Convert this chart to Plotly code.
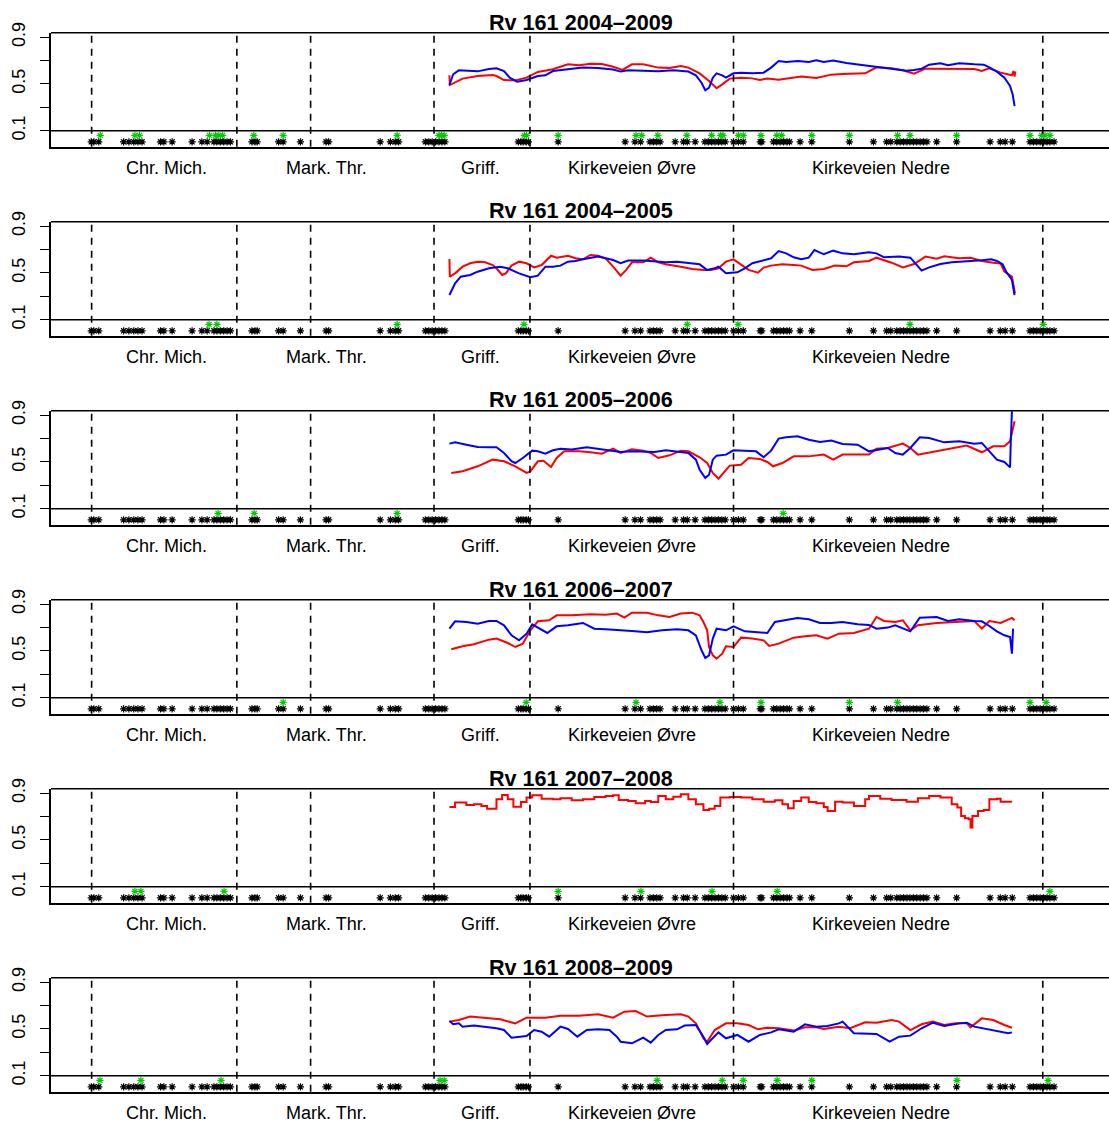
import plotly.graph_objects as go

# ---------------- data ----------------
titles = ["Rv 161 2004\u20132009", "Rv 161 2004\u20132005", "Rv 161 2005\u20132006",
          "Rv 161 2006\u20132007", "Rv 161 2007\u20132008", "Rv 161 2008\u20132009"]

section_names = ["Chr. Mich.", "Mark. Thr.", "Griff.", "Kirkeveien \u00d8vre", "Kirkeveien Nedre"]
section_label_pos = [374, 798, 1207, 1610, 2272]
section_bounds = [174, 560, 756, 1084, 1339, 1880, 2702]

black_star_pos = [173, 180, 193, 259, 273, 286, 297, 308, 357, 366, 388, 441, 467, 481, 499, 507, 516,
                  525, 534, 543, 600, 608, 614, 671, 683, 729, 797, 804, 941, 968, 981, 990, 1061,
                  1070, 1079, 1088, 1097, 1105, 1113, 1308, 1315, 1321, 1329, 1335, 1414, 1592, 1618,
                  1633, 1658, 1667, 1676, 1685, 1725, 1747, 1757, 1778, 1804, 1813, 1822, 1831, 1840,
                  1849, 1858, 1880, 1893, 1906, 1951, 1955, 1986, 1995, 2004, 2013, 2022, 2029, 2057,
                  2088, 2188, 2252, 2287, 2298, 2314, 2323, 2332, 2341, 2349, 2358, 2367, 2376, 2385,
                  2394, 2420, 2473, 2562, 2589, 2602, 2621, 2668, 2677, 2686, 2695, 2704, 2713, 2721, 2732]

green_star_pos = [
    [197, 289, 301, 487, 503, 512, 522, 605, 683, 986, 1097, 1104, 1111, 1324, 1330, 1414, 1621,
     1636, 1679, 1756, 1822, 1846, 1852, 1893, 1906, 1953, 1995, 2008, 2088, 2188, 2316, 2349,
     2473, 2668, 2699, 2708, 2721],
    [486, 507, 986, 1323, 1757, 1892, 2349, 2703],
    [510, 606, 986, 2012],
    [683, 1329, 1621, 1844, 1953, 2188, 2316, 2668, 2711],
    [289, 305, 526, 1414, 1634, 1823, 1996, 2721],
    [196, 305, 518, 1100, 1111, 1677, 1850, 1906, 1996, 2088, 2474, 2716],
]
black_star_level = 0.005
green_star_level = 0.06
threshold_level = 0.1

# panel 1 (2004-2009)
p1_red_x = [1125, 1126, 1160, 1200, 1240, 1250, 1270, 1300, 1330, 1360, 1400, 1440, 1470, 1500, 1530,
            1560, 1585, 1610, 1640, 1680, 1710, 1740, 1760, 1790, 1815, 1835, 1850, 1870, 1900, 1930,
            1950, 1970, 2000, 2030, 2060, 2100, 2140, 2170, 2200, 2230, 2260, 2300, 2330, 2360, 2390,
            2430, 2480, 2520, 2540, 2560, 2590, 2620, 2624, 2627, 2629]
p1_red_y = [0.574, 0.491, 0.546, 0.568, 0.577, 0.568, 0.534, 0.531, 0.554, 0.603, 0.626, 0.668, 0.660,
            0.674, 0.671, 0.648, 0.620, 0.668, 0.668, 0.640, 0.637, 0.654, 0.640, 0.591, 0.526, 0.463,
            0.497, 0.546, 0.554, 0.548, 0.534, 0.546, 0.537, 0.551, 0.563, 0.551, 0.580, 0.586, 0.586,
            0.591, 0.643, 0.634, 0.617, 0.588, 0.631, 0.631, 0.628, 0.628, 0.611, 0.634, 0.597, 0.574,
            0.611, 0.563, 0.608]
p1_blue_x = [1125, 1135, 1150, 1180, 1200, 1230, 1250, 1270, 1285, 1305, 1330, 1360, 1380, 1400, 1440,
             1480, 1520, 1560, 1580, 1600, 1640, 1680, 1720, 1760, 1780, 1795, 1805, 1815, 1825, 1835,
             1850, 1860, 1880, 1900, 1930, 1960, 1980, 2000, 2020, 2050, 2080, 2100, 2120, 2145, 2180,
             2220, 2260, 2300, 2340, 2360, 2380, 2400, 2430, 2450, 2480, 2520, 2545, 2560, 2580, 2600,
             2615, 2622, 2627]
p1_blue_y = [0.491, 0.583, 0.617, 0.614, 0.608, 0.628, 0.634, 0.611, 0.554, 0.520, 0.534, 0.568, 0.574,
             0.611, 0.626, 0.640, 0.637, 0.623, 0.606, 0.617, 0.614, 0.608, 0.617, 0.606, 0.574, 0.511,
             0.446, 0.468, 0.554, 0.591, 0.574, 0.554, 0.591, 0.597, 0.591, 0.597, 0.640, 0.697, 0.688,
             0.697, 0.688, 0.703, 0.688, 0.700, 0.680, 0.665, 0.646, 0.634, 0.614, 0.620, 0.631, 0.665,
             0.677, 0.660, 0.677, 0.668, 0.665, 0.643, 0.606, 0.554, 0.483, 0.411, 0.311]

# panel 2 (2004-2005)
p2_red_x = [1125, 1126, 1140, 1160, 1180, 1200, 1220, 1240, 1250, 1265, 1275, 1290, 1310, 1330, 1350,
            1370, 1395, 1410, 1440, 1460, 1480, 1500, 1520, 1540, 1560, 1580, 1595, 1610, 1640, 1660,
            1680, 1700, 1740, 1770, 1800, 1820, 1840, 1860, 1880, 1900, 1920, 1945, 1960, 1980, 2010,
            2040, 2060, 2090, 2120, 2150, 2180, 2200, 2240, 2260, 2300, 2330, 2360, 2390, 2420, 2440,
            2480, 2510, 2540, 2570, 2590, 2600, 2620, 2628]
p2_red_y = [0.620, 0.468, 0.497, 0.554, 0.583, 0.597, 0.591, 0.568, 0.540, 0.483, 0.497, 0.563, 0.597,
            0.583, 0.548, 0.568, 0.648, 0.631, 0.648, 0.626, 0.617, 0.654, 0.648, 0.626, 0.554, 0.477,
            0.526, 0.591, 0.591, 0.631, 0.591, 0.574, 0.554, 0.534, 0.526, 0.526, 0.540, 0.597, 0.617,
            0.574, 0.526, 0.503, 0.546, 0.563, 0.574, 0.568, 0.563, 0.526, 0.534, 0.563, 0.557, 0.591,
            0.603, 0.631, 0.588, 0.548, 0.577, 0.640, 0.623, 0.643, 0.626, 0.631, 0.603, 0.588, 0.580,
            0.511, 0.468, 0.326]
p2_blue_x = [1125, 1140, 1155, 1180, 1200, 1230, 1260, 1280, 1310, 1340, 1360, 1380, 1400, 1420, 1440,
             1460, 1480, 1500, 1520, 1540, 1560, 1580, 1600, 1640, 1670, 1700, 1730, 1760, 1790, 1810,
             1830, 1840, 1860, 1890, 1910, 1930, 1960, 1980, 2000, 2020, 2040, 2060, 2080, 2095, 2120,
             2145, 2170, 2200, 2240, 2260, 2280, 2320, 2350, 2380, 2400, 2430, 2460, 2500, 2540, 2565,
             2580, 2595, 2605, 2620, 2627]
p2_blue_y = [0.311, 0.411, 0.468, 0.483, 0.511, 0.540, 0.554, 0.540, 0.497, 0.463, 0.477, 0.554, 0.554,
             0.563, 0.597, 0.603, 0.617, 0.626, 0.640, 0.626, 0.611, 0.583, 0.606, 0.606, 0.597, 0.591,
             0.597, 0.583, 0.574, 0.526, 0.540, 0.554, 0.497, 0.506, 0.540, 0.583, 0.606, 0.626, 0.688,
             0.668, 0.634, 0.617, 0.631, 0.697, 0.660, 0.691, 0.668, 0.660, 0.677, 0.668, 0.634, 0.640,
             0.631, 0.520, 0.548, 0.577, 0.591, 0.597, 0.608, 0.617, 0.603, 0.574, 0.511, 0.440, 0.311]

# panel 3 (2005-2006)
p3_red_x = [1130, 1160, 1200, 1240, 1270, 1300, 1330, 1340, 1360, 1375, 1395, 1410, 1430, 1470, 1500,
            1530, 1560, 1580, 1610, 1640, 1660, 1680, 1710, 1740, 1760, 1790, 1810, 1825, 1840, 1860,
            1870, 1900, 1920, 1950, 1970, 1985, 2010, 2040, 2080, 2120, 2145, 2170, 2200, 2240, 2260,
            2290, 2330, 2350, 2370, 2410, 2450, 2500, 2540, 2570, 2600, 2615, 2622, 2627]
p3_red_y = [0.406, 0.420, 0.463, 0.520, 0.506, 0.463, 0.406, 0.420, 0.506, 0.511, 0.457, 0.534, 0.591,
            0.591, 0.583, 0.571, 0.614, 0.577, 0.608, 0.597, 0.577, 0.534, 0.557, 0.597, 0.591, 0.540,
            0.491, 0.406, 0.357, 0.434, 0.469, 0.477, 0.534, 0.526, 0.500, 0.463, 0.491, 0.548, 0.548,
            0.563, 0.520, 0.563, 0.563, 0.563, 0.614, 0.620, 0.657, 0.620, 0.563, 0.586, 0.614, 0.640,
            0.583, 0.634, 0.634, 0.677, 0.777, 0.848]
p3_blue_x = [1125, 1140, 1170, 1200, 1230, 1250, 1270, 1290, 1300, 1320, 1345, 1360, 1380, 1400, 1420,
             1450, 1490, 1520, 1550, 1580, 1610, 1640, 1670, 1700, 1730, 1760, 1780, 1790, 1805, 1815,
             1825, 1835, 1860, 1880, 1910, 1940, 1960, 1980, 2000, 2020, 2050, 2080, 2110, 2140, 2170,
             2210, 2240, 2265, 2290, 2310, 2330, 2350, 2375, 2400, 2440, 2480, 2520, 2540, 2560, 2580,
             2600, 2615, 2617, 2620]
p3_blue_y = [0.657, 0.668, 0.648, 0.628, 0.626, 0.626, 0.577, 0.506, 0.491, 0.534, 0.597, 0.591, 0.571,
             0.600, 0.614, 0.606, 0.626, 0.614, 0.600, 0.586, 0.591, 0.591, 0.586, 0.600, 0.591, 0.577,
             0.520, 0.434, 0.363, 0.391, 0.520, 0.554, 0.563, 0.600, 0.597, 0.591, 0.540, 0.597, 0.700,
             0.711, 0.720, 0.691, 0.671, 0.683, 0.654, 0.648, 0.591, 0.606, 0.620, 0.577, 0.563, 0.620,
             0.711, 0.706, 0.668, 0.677, 0.657, 0.663, 0.591, 0.520, 0.500, 0.454, 0.677, 0.934]

# panel 4 (2006-2007)
p4_red_x = [1130, 1160, 1190, 1230, 1250, 1280, 1300, 1320, 1340, 1360, 1390, 1410, 1450, 1500, 1540,
            1570, 1590, 1610, 1650, 1680, 1710, 1740, 1770, 1790, 1800, 1810, 1815, 1825, 1835, 1850,
            1860, 1880, 1900, 1930, 1960, 1975, 2000, 2040, 2070, 2100, 2130, 2160, 2200, 2240, 2260,
            2280, 2310, 2330, 2350, 2370, 2420, 2480, 2520, 2540, 2560, 2590, 2620, 2627]
p4_red_y = [0.514, 0.540, 0.557, 0.597, 0.606, 0.568, 0.534, 0.563, 0.677, 0.754, 0.763, 0.805, 0.805,
            0.814, 0.811, 0.820, 0.785, 0.828, 0.828, 0.805, 0.791, 0.820, 0.828, 0.805, 0.748, 0.677,
            0.534, 0.463, 0.434, 0.477, 0.540, 0.534, 0.614, 0.606, 0.591, 0.543, 0.563, 0.614, 0.626,
            0.634, 0.606, 0.648, 0.654, 0.691, 0.791, 0.757, 0.748, 0.763, 0.677, 0.720, 0.740, 0.754,
            0.757, 0.691, 0.757, 0.740, 0.783, 0.763]
p4_blue_x = [1125, 1140, 1170, 1200, 1230, 1250, 1270, 1290, 1310, 1330, 1345, 1370, 1385, 1410, 1440,
             1480, 1510, 1540, 1570, 1610, 1650, 1690, 1730, 1760, 1780, 1795, 1805, 1815, 1825, 1835,
             1860, 1880, 1910, 1940, 1970, 1990, 2020, 2050, 2080, 2110, 2140, 2170, 2210, 2240, 2260,
             2290, 2310, 2340, 2350, 2375, 2400, 2420, 2450, 2480, 2520, 2540, 2560, 2580, 2600, 2615,
             2620, 2623]
p4_blue_y = [0.691, 0.754, 0.748, 0.734, 0.757, 0.757, 0.720, 0.634, 0.591, 0.648, 0.728, 0.677, 0.654,
             0.711, 0.720, 0.740, 0.691, 0.686, 0.677, 0.671, 0.660, 0.677, 0.686, 0.677, 0.634, 0.506,
             0.440, 0.463, 0.606, 0.691, 0.677, 0.711, 0.668, 0.663, 0.654, 0.748, 0.763, 0.783, 0.771,
             0.740, 0.740, 0.748, 0.728, 0.723, 0.691, 0.700, 0.720, 0.677, 0.668, 0.785, 0.785, 0.791,
             0.757, 0.771, 0.757, 0.754, 0.714, 0.668, 0.634, 0.620, 0.477, 0.691]

# panel 5 (2007-2008), red only, stepped
p5_red_x = [1125, 1140, 1155, 1170, 1190, 1210, 1225, 1250, 1265, 1280, 1295, 1315, 1330, 1345, 1370,
            1400, 1420, 1450, 1480, 1510, 1540, 1560, 1575, 1600, 1620, 1645, 1660, 1680, 1700, 1720,
            1740, 1760, 1780, 1800, 1815, 1830, 1845, 1870, 1900, 1930, 1960, 1990, 2010, 2025, 2040,
            2060, 2080, 2100, 2120, 2130, 2150, 2170, 2200, 2230, 2240, 2270, 2300, 2340, 2370, 2400,
            2430, 2460, 2475, 2485, 2495, 2505, 2510, 2515, 2530, 2545, 2560, 2580, 2590, 2618]
p5_red_y = [0.783, 0.820, 0.820, 0.800, 0.805, 0.791, 0.768, 0.848, 0.885, 0.848, 0.785, 0.825, 0.863,
            0.883, 0.854, 0.848, 0.857, 0.840, 0.848, 0.868, 0.877, 0.883, 0.843, 0.834, 0.814, 0.834,
            0.825, 0.877, 0.848, 0.871, 0.891, 0.848, 0.805, 0.757, 0.768, 0.791, 0.863, 0.868, 0.863,
            0.848, 0.828, 0.840, 0.805, 0.771, 0.834, 0.863, 0.825, 0.814, 0.783, 0.748, 0.828, 0.820,
            0.791, 0.848, 0.877, 0.854, 0.843, 0.828, 0.857, 0.877, 0.863, 0.805, 0.777, 0.706, 0.686,
            0.677, 0.606, 0.706, 0.748, 0.757, 0.848, 0.854, 0.828, 0.820]

# panel 6 (2008-2009)
p6_red_x = [1125, 1150, 1180, 1220, 1260, 1300, 1330, 1380, 1420, 1470, 1520, 1560, 1590, 1620, 1650,
            1700, 1740, 1760, 1780, 1800, 1810, 1830, 1860, 1890, 1920, 1945, 1970, 2000, 2040, 2070,
            2100, 2120, 2160, 2190, 2230, 2260, 2300, 2320, 2350, 2380, 2410, 2440, 2470, 2500, 2510,
            2540, 2570, 2600, 2620]
p6_red_y = [0.563, 0.577, 0.606, 0.597, 0.583, 0.548, 0.597, 0.597, 0.614, 0.614, 0.626, 0.597, 0.648,
            0.654, 0.606, 0.620, 0.626, 0.606, 0.548, 0.420, 0.391, 0.491, 0.548, 0.548, 0.534, 0.497,
            0.511, 0.506, 0.486, 0.514, 0.514, 0.500, 0.520, 0.506, 0.557, 0.554, 0.577, 0.563, 0.491,
            0.540, 0.563, 0.534, 0.548, 0.548, 0.514, 0.591, 0.577, 0.534, 0.511]
p6_blue_x = [1125, 1135, 1150, 1160, 1190, 1220, 1250, 1270, 1290, 1330, 1350, 1370, 1390, 1420, 1440,
             1465, 1490, 1520, 1550, 1570, 1580, 1610, 1640, 1660, 1680, 1700, 1730, 1750, 1780, 1800,
             1810, 1820, 1840, 1860, 1890, 1920, 1950, 1980, 2000, 2040, 2070, 2100, 2130, 2160, 2170,
             2200, 2240, 2260, 2295, 2320, 2350, 2380, 2410, 2440, 2480, 2500, 2520, 2560, 2590, 2610,
             2620]
p6_blue_y = [0.568, 0.540, 0.548, 0.520, 0.529, 0.520, 0.506, 0.491, 0.426, 0.440, 0.491, 0.477, 0.434,
             0.520, 0.500, 0.434, 0.491, 0.497, 0.491, 0.434, 0.391, 0.377, 0.426, 0.383, 0.449, 0.491,
             0.497, 0.529, 0.534, 0.434, 0.371, 0.406, 0.471, 0.420, 0.449, 0.391, 0.449, 0.471, 0.497,
             0.477, 0.540, 0.520, 0.526, 0.548, 0.563, 0.463, 0.463, 0.457, 0.391, 0.434, 0.443, 0.506,
             0.554, 0.526, 0.548, 0.554, 0.520, 0.497, 0.477, 0.463, 0.471]

red_series = [(p1_red_x, p1_red_y), (p2_red_x, p2_red_y), (p3_red_x, p3_red_y),
              (p4_red_x, p4_red_y), (p5_red_x, p5_red_y), (p6_red_x, p6_red_y)]
blue_series = [(p1_blue_x, p1_blue_y), (p2_blue_x, p2_blue_y), (p3_blue_x, p3_blue_y),
               (p4_blue_x, p4_blue_y), None, (p6_blue_x, p6_blue_y)]
red_shape = ["linear", "linear", "linear", "linear", "hv", "linear"]

y_ticks = [0.1, 0.3, 0.5, 0.7, 0.9]
y_ticktext = ["0.1", "", "0.5", "", "0.9"]

# ---------------- layout geometry ----------------
W, H = 1109, 1122
PANEL_STEP = 189
PANEL_TOP = 32.7
PANEL_H = 114.0
X_LEFT = 51.0
X_RANGE = [66, 2878]
Y_RANGE = [-0.037, 0.939]
TITLE_X = 580.7
TITLE_Y0 = 22
LABEL_Y0 = 168.3
FONT = "Liberation Sans, Arial, Helvetica, sans-serif"
GREEN = "#00CD00"

fig = go.Figure()
layout = dict(
    width=W, height=H, margin=dict(l=0, r=0, t=0, b=0, pad=0), autosize=False,
    paper_bgcolor="white", plot_bgcolor="white", showlegend=False,
    hovermode=False, font=dict(family=FONT, size=18, color="black"),
)
shapes = []
annotations = []

for k in range(6):
    sx = "" if k == 0 else str(k + 1)
    xa, ya = "x" + sx, "y" + sx
    top_px = PANEL_TOP + PANEL_STEP * k
    bot_px = top_px + PANEL_H
    layout["xaxis" + sx] = dict(
        domain=[X_LEFT / W, 1.0], range=X_RANGE, anchor=ya, automargin=False,
        showline=True, linecolor="black", linewidth=1.6,
        showgrid=False, zeroline=False, ticks="", showticklabels=False,
    )
    layout["yaxis" + sx] = dict(
        domain=[1 - bot_px / H, 1 - top_px / H], range=Y_RANGE, anchor=xa, automargin=False,
        showline=True, linecolor="black", linewidth=1.6,
        showgrid=False, zeroline=False,
        tickmode="array", tickvals=y_ticks, ticktext=y_ticktext,
        ticks="outside", ticklen=9, tickwidth=1.4, tickcolor="black",
        tickangle=-90, ticklabelstandoff=8,
        tickfont=dict(family=FONT, size=18, color="black"),
    )
    shapes.append(dict(type="line", xref=xa + " domain", yref=ya + " domain",
                       x0=0, x1=1, y0=1, y1=1, line=dict(color="black", width=1.6)))
    shapes.append(dict(type="line", xref=xa + " domain", yref=ya,
                       x0=0, x1=1, y0=threshold_level, y1=threshold_level,
                       line=dict(color="black", width=1.6)))
    for b in section_bounds:
        shapes.append(dict(type="line", xref=xa, yref=ya + " domain",
                           x0=b, x1=b, y0=0, y1=1,
                           line=dict(color="black", width=1.6, dash="7px,6px")))

    rx, ry = red_series[k]
    fig.add_trace(go.Scatter(x=rx, y=ry, mode="lines", xaxis=xa, yaxis=ya,
                             line=dict(color="#FF0000", width=2, shape=red_shape[k])))
    if blue_series[k] is not None:
        bx, by = blue_series[k]
        fig.add_trace(go.Scatter(x=bx, y=by, mode="lines", xaxis=xa, yaxis=ya,
                                 line=dict(color="#0000FF", width=2)))
    fig.add_trace(go.Scatter(x=black_star_pos, y=[black_star_level] * len(black_star_pos),
                             mode="markers", xaxis=xa, yaxis=ya,
                             marker=dict(symbol="asterisk-open", size=6, color="black",
                                         line=dict(color="black", width=1.2))))
    gp = green_star_pos[k]
    fig.add_trace(go.Scatter(x=gp, y=[green_star_level] * len(gp),
                             mode="markers", xaxis=xa, yaxis=ya,
                             marker=dict(symbol="asterisk-open", size=6, color=GREEN,
                                         line=dict(color=GREEN, width=1.2))))

    annotations.append(dict(text="<b>" + titles[k] + "</b>", xref="paper", yref="paper",
                            x=TITLE_X / W, y=1 - (TITLE_Y0 + PANEL_STEP * k) / H,
                            xanchor="center", yanchor="middle", showarrow=False,
                            font=dict(family=FONT, size=21.6, color="black")))
    for name, pos in zip(section_names, section_label_pos):
        annotations.append(dict(text=name, xref=xa, yref="paper",
                                x=pos, y=1 - (LABEL_Y0 + PANEL_STEP * k) / H,
                                xanchor="center", yanchor="middle", showarrow=False,
                                font=dict(family=FONT, size=18, color="black")))

layout["shapes"] = shapes
layout["annotations"] = annotations
fig.update_layout(**layout)

fig.write_html("out.html", config={"displayModeBar": False},
               post_script="document.body.style.margin='0';document.body.style.overflow='hidden';")
